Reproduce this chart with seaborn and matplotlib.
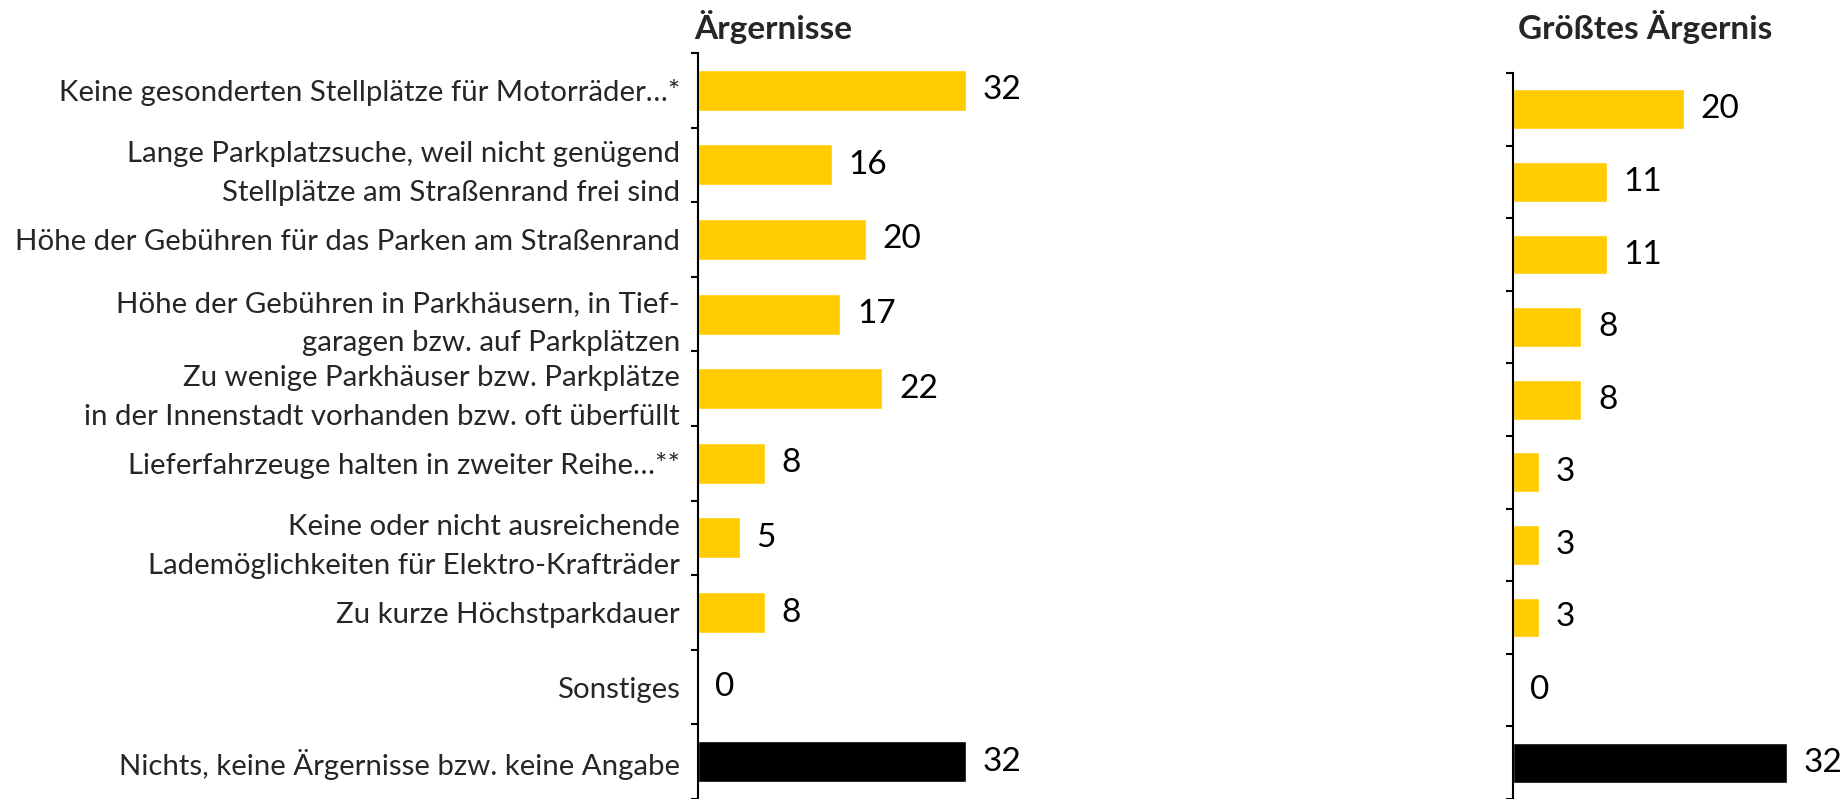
import matplotlib
matplotlib.use('Agg')
import matplotlib.pyplot as plt
import seaborn as sns
import pandas as pd

# categories of annoyances (left labels)
categories = [
    'Keine gesonderten Stellplätze für Motorräder…*',
    'Lange Parkplatzsuche, weil nicht genügend\nStellplätze am Straßenrand frei sind',
    'Höhe der Gebühren für das Parken am Straßenrand',
    'Höhe der Gebühren in Parkhäusern, in Tief-\ngaragen bzw. auf Parkplätzen',
    'Zu wenige Parkhäuser bzw. Parkplätze\nin der Innenstadt vorhanden bzw. oft überfüllt',
    'Lieferfahrzeuge halten in zweiter Reihe…**',
    'Keine oder nicht ausreichende\nLademöglichkeiten für Elektro-Krafträder',
    'Zu kurze Höchstparkdauer',
    'Sonstiges',
    'Nichts, keine Ärgernisse bzw. keine Angabe',
]
aergernisse = [32, 16, 20, 17, 22, 8, 5, 8, 0, 32]
groesstes = [20, 11, 11, 8, 8, 3, 3, 3, 0, 32]

titles = ['Ärgernisse', 'Größtes Ärgernis']
yellow = '#FFCC00'
colors = [yellow] * 9 + ['#000000']

sns.set_style('white')
plt.rcParams['font.family'] = ['Lato', 'DejaVu Sans']

W, H = 1847, 799
fig = plt.figure(figsize=(W / 100, H / 100), dpi=100)

def px_axes(x0, top, width, bottom=799):
    return fig.add_axes([x0 / W, 1 - bottom / H, width / W, (bottom - top) / H])

ax1 = px_axes(698, 53, 40 * 8.375)
ax2 = px_axes(1513, 73, 38 * 8.55)

df = pd.DataFrame({'cat': categories, 'a': aergernisse, 'g': groesstes})

for ax, col, xmax in [(ax1, 'a', 40), (ax2, 'g', 38)]:
    sns.barplot(data=df, x=col, y='cat', hue='cat', palette=colors,
                legend=False, width=0.55, saturation=1, ax=ax)
    for c in ax.containers:
        ax.bar_label(c, fmt='%g', padding=12, fontsize=24, color='black')
    ax.set_xlim(0, xmax)
    ax.set_ylim(9.5, -0.5)
    ax.set_xlabel('')
    ax.set_ylabel('')
    ax.set_xticks([])
    for s in ['top', 'right', 'bottom']:
        ax.spines[s].set_visible(False)
    ax.spines['left'].set_linewidth(1.5)
    ax.spines['left'].set_color('black')
    ax.set_yticks([i - 0.5 for i in range(11)], minor=True)
    ax.tick_params(axis='y', which='minor', length=5, width=1.5,
                   direction='out', left=True, color='black')
    ax.tick_params(axis='y', which='major', length=0, pad=13)

ax1.set_yticks(range(len(categories)))
ax1.set_yticklabels(categories, fontsize=21.2, linespacing=1.62)
ax2.set_yticks(range(len(categories)))
ax2.set_yticklabels([])

fig.text(694 / W, 1 - 39 / H, titles[0], fontsize=24, fontweight='bold',
         ha='left', va='baseline')
fig.text(1518 / W, 1 - 39 / H, titles[1], fontsize=24, fontweight='bold',
         ha='left', va='baseline')

fig.savefig('out.png', dpi=100)
